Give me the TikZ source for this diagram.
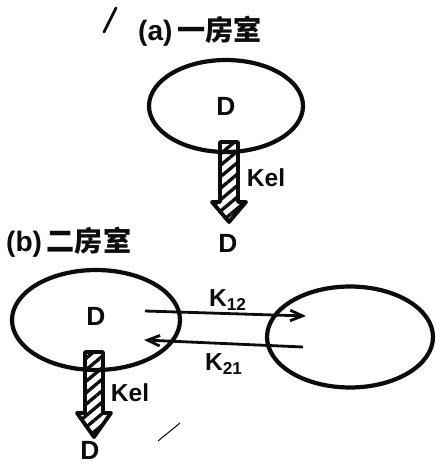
\documentclass[tikz,border=0pt]{standalone}
\usepackage{fontspec}
\setmainfont{Liberation Sans}
\newfontfamily\cjk{Noto Sans CJK SC}
\usetikzlibrary{arrows.meta,positioning,calc,shapes.geometric,patterns.meta}
\definecolor{inkcolor}{RGB}{12,12,12}

\tikzset{
  room/.style={ellipse, draw=inkcolor, line width=2.4pt, inner sep=0pt},
  drug/.style={font=\fontsize{15}{15}\selectfont\bfseries, text=inkcolor},
  rate/.style={font=\fontsize{14}{14}\selectfont\bfseries, text=inkcolor},
  heading/.style={font=\fontsize{16}{16}\selectfont\bfseries, text=inkcolor, anchor=west},
  transfer/.style={-{Straight Barb[length=7pt,width=6pt]}, line width=1.6pt, inkcolor},
  elim/.style={draw=inkcolor, line width=2.2pt, line join=round,
    pattern={Lines[angle=40,distance=5pt,line width=1.9pt]}, pattern color=inkcolor},
}

\begin{document}
\begin{tikzpicture}[x=0.02cm, y=-0.02cm]
    \useasboundingbox (0,0) rectangle (435,465);
    % (a) one compartment
    \node[heading] (titleA) at (132,31) {(a)\,{\cjk 一房室}};
    \node[room, minimum width=3.08cm, minimum height=1.84cm] (roomA) at (226,106) {};
    \node[drug] (drugA) at (226,106) {D};
    \coordinate (elimA) at (229,142);
    \draw[elim] ($(elimA)+(-9,0)$) -- ++(18,0) -- ++(0,60) -- ++(8,0)
      -- ($(elimA)+(0,80)$) -- ++(-17,-20) -- ++(8,0) -- cycle;
    \node[rate] (kelA) at (266,178) {Kel};
    \node[drug] (outA) at (228,243) {D};
    % (b) two compartments
    \node[heading] (titleB) at (0,242) {(b)\,{\cjk 二房室}};
    \node[room, minimum width=3.36cm, minimum height=2.0cm] (roomB) at (96,320) {};
    \node[room, minimum width=3.32cm, minimum height=2.02cm] (periB) at (350,337) {};
    \node[drug] (drugB) at (96,316) {D};
    % transfer between rooms
    \coordinate (k12s) at (145,311);
    \coordinate (k12e) at (306,316);
    \coordinate (k21s) at (303,347);
    \coordinate (k21e) at (144,340);
    \draw[transfer] (k12s) -- (k12e);
    \draw[transfer] (k21s) -- (k21e);
    \node[rate] (k12) at (228,300) {K\textsubscript{12}};
    \node[rate] (k21) at (224,364) {K\textsubscript{21}};
    % elimination from central room
    \coordinate (elimB) at (94,352);
    \draw[elim] ($(elimB)+(-9,0)$) -- ++(18,0) -- ++(0,61) -- ++(8,0)
      -- ($(elimB)+(0,85)$) -- ++(-17,-24) -- ++(8,0) -- cycle;
    \node[rate] (kelB) at (130,393) {Kel};
    \node[drug] (outB) at (90,450) {D};
    % stray pen marks
    \draw[inkcolor, line width=1.6pt, line cap=round] (104,32) -- (116,8);
    \draw[inkcolor, line width=0.6pt] (158,441) -- (180,423);
\end{tikzpicture}
\end{document}
